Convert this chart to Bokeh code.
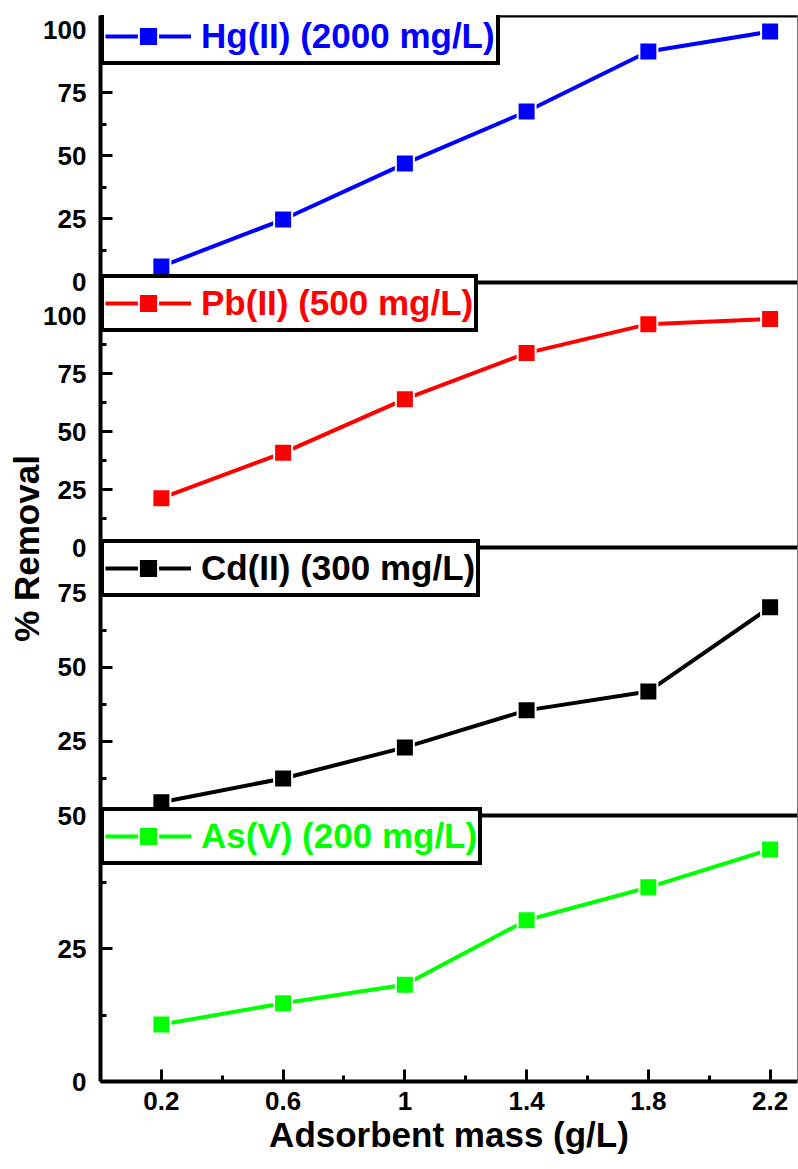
from bokeh.plotting import figure
from bokeh.models import Range1d, FixedTicker, Legend, LegendItem, Span
from bokeh.embed import file_html
from bokeh.resources import INLINE

# ---------------- data ----------------
mass = [0.2, 0.6, 1.0, 1.4, 1.8, 2.2]
mass_minor = [0.4, 0.8, 1.2, 1.6, 2.0]
x_tick_labels = ["0.2", "0.6", "1", "1.4", "1.8", "2.2"]

hg = [6.0, 24.6, 46.8, 67.5, 91.3, 99.2]
pb = [21.3, 40.9, 64.1, 84.0, 96.5, 98.7]
cd = [4.5, 12.5, 23.0, 35.5, 41.9, 70.3]
as_v = [10.7, 14.7, 18.2, 30.3, 36.5, 43.6]

series_labels = ["Hg(II) (2000 mg/L)", "Pb(II) (500 mg/L)", "Cd(II) (300 mg/L)", "As(V) (200 mg/L)"]
series_values = [hg, pb, cd, as_v]
series_colors = ["#0000FF", "#FF0000", "#000000", "#00FF00"]
range_names = ["hg", "pb", "cd", "as"]

y_major_ticks = [[0, 25, 50, 75, 100], [0, 25, 50, 75, 100], [0, 25, 50, 75], [0, 25, 50]]
y_minor_ticks = [[12.5, 37.5, 62.5, 87.5], [12.5, 37.5, 62.5, 87.5, 112.5],
                 [12.5, 37.5, 62.5, 87.5], [12.5, 37.5]]
y_max = [105.6, 114.5, 90.5, 50.0]

# ---------------- layout (frame pixel bands, measured from frame bottom) ----------------
FRAME_H = 1066
FRAME_W = 697
bands = [(800, 1066), (534, 799), (266, 534), (0, 266)]
LEG_H = 50

FONT = "Liberation Sans"

p = figure(frame_width=FRAME_W, frame_height=FRAME_H,
           min_border_left=100, min_border_right=1, min_border_top=15, min_border_bottom=88,
           x_range=Range1d(0, 2.29), y_range=Range1d(0, FRAME_H),
           output_backend="svg", toolbar_location=None)
p.grid.visible = False
p.outline_line_color = "#777777"
p.outline_line_width = 1
p.background_fill_color = "white"
p.border_fill_color = "white"


def style_axis(ax):
    ax.axis_line_width = 4
    ax.axis_line_color = "black"
    ax.major_tick_in = 12
    ax.major_tick_out = 0
    ax.minor_tick_in = 6
    ax.minor_tick_out = 0
    ax.major_tick_line_width = 3
    ax.minor_tick_line_width = 3
    ax.major_label_text_font = FONT
    ax.major_label_text_font_style = "bold"
    ax.major_label_text_font_size = "26px"
    ax.major_label_text_color = "black"
    ax.axis_label_text_font = FONT
    ax.axis_label_text_font_style = "bold"
    ax.axis_label_text_font_size = "35px"
    ax.axis_label_text_color = "black"


# x axis
xa = p.xaxis[0]
style_axis(xa)
xa.ticker = FixedTicker(ticks=mass, minor_ticks=mass_minor)
xa.major_label_overrides = {m: lab for m, lab in zip(mass, x_tick_labels)}
xa.major_label_standoff = 10
xa.axis_label = "Adsorbent mass (g/L)"
xa.axis_label_standoff = 2

# shared left axis: each panel's ticks placed in its own band
y_tick_pos, y_tick_lab, y_minor_pos = [], {}, []
for i in range(4):
    lo, hi = bands[i]
    s = (hi - lo) / y_max[i]
    for v in y_major_ticks[i]:
        pos = lo + v * s
        y_tick_pos.append(pos)
        y_tick_lab[pos] = str(v)
    for v in y_minor_ticks[i]:
        y_minor_pos.append(lo + v * s)
# at the Cd/As boundary the As "50" label is the one shown
y_tick_lab[bands[3][1]] = "50"

ya = p.yaxis[0]
style_axis(ya)
ya.ticker = FixedTicker(ticks=sorted(set(y_tick_pos)), minor_ticks=y_minor_pos)
ya.major_label_overrides = y_tick_lab
ya.major_label_standoff = 14
ya.axis_label = "% Removal"
ya.axis_label_standoff = -6

for i, name in enumerate(range_names):
    lo, hi = bands[i]
    k = y_max[i] / (hi - lo)
    p.extra_y_ranges[name] = Range1d(start=-lo * k, end=(FRAME_H - lo) * k)

    # panel separator / top border
    p.add_layout(Span(location=hi, dimension="width", line_color="black", line_width=4))

    c = series_colors[i]
    lr = p.line(mass, series_values[i], y_range_name=name, line_color=c, line_width=4)
    sr = p.scatter(mass, series_values[i], y_range_name=name, marker="square", size=18,
                   fill_color=c, line_color="white", line_width=2)

    leg = Legend(items=[LegendItem(label=series_labels[i], renderers=[lr, sr])],
                 location=(0, hi - LEG_H), margin=0, padding=1, spacing=0,
                 border_line_color="black", border_line_width=4, border_line_alpha=1,
                 background_fill_color="white", background_fill_alpha=1,
                 label_text_font=FONT, label_text_font_style="bold",
                 label_text_font_size="35px", label_text_color=c,
                 glyph_width=86, glyph_height=48, label_height=48, label_standoff=10)
    p.add_layout(leg)

open("out.html", "w").write(file_html(p, INLINE))
